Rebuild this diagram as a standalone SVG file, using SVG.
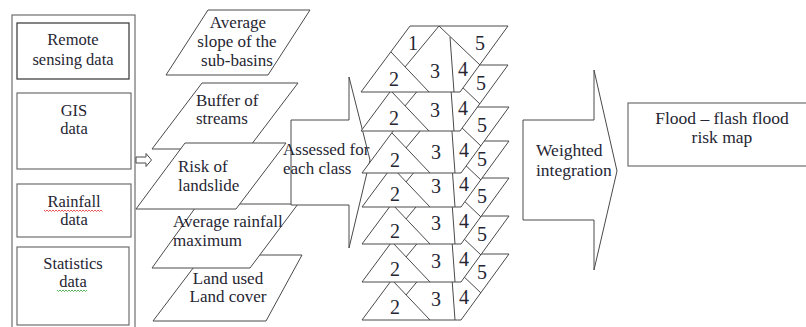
<svg xmlns="http://www.w3.org/2000/svg" xmlns:xlink="http://www.w3.org/1999/xlink" width="806" height="327" viewBox="0 0 806 327" font-family="'Liberation Serif', 'DejaVu Serif', serif">
<style>
  text { font-family: "Liberation Serif", "DejaVu Serif", serif; fill: #262633; }
  .s16 { font-size: 16.5px; }
  .s17 { font-size: 17px; }
  .s18 { font-size: 17.5px; }
  .num { font-size: 20px; text-anchor: middle; }
  .mid { text-anchor: middle; }
  .shape { fill: #ffffff; stroke: #4a4a4a; stroke-width: 1; }
  .ln { fill: none; stroke: #4a4a4a; stroke-width: 1; }
  .box { fill: #ffffff; stroke: #6e6e6e; stroke-width: 1.2; }
</style>
<defs>
  <g id="layerShape">
    <polygon class="shape" points="410,0 508,0 460,66 361,66"/>
    <line class="ln" x1="391" y1="26" x2="429" y2="66"/>
    <line class="ln" x1="439" y1="0" x2="405" y2="41"/>
    <line class="ln" x1="439" y1="0" x2="480" y2="39"/>
    <line class="ln" x1="450" y1="11" x2="454" y2="66"/>
  </g>
</defs>

<!-- Left data column -->
<g id="data-sources">
  <rect class="box" x="12" y="15" width="123" height="330"/>
  <g id="remote">
    <rect x="17" y="23" width="112" height="56" fill="#fff" stroke="#333" stroke-width="1.2"/>
    <text class="s16 mid" x="73" y="45">Remote</text>
    <text class="s16 mid" x="73" y="65">sensing data</text>
  </g>
  <g id="gis">
    <rect class="box" x="17" y="93" width="114" height="76"/>
    <text class="s16 mid" x="74" y="116">GIS</text>
    <text class="s16 mid" x="74" y="134">data</text>
  </g>
  <g id="rainfall">
    <rect class="box" x="17" y="184" width="114" height="53"/>
    <text class="s16 mid" x="74" y="207">Rainfall</text>
    <text class="s16 mid" x="74" y="225">data</text>
    <polyline fill="none" stroke="#e03030" stroke-width="0.8" points="44,210 45.5,211.5 47,210 48.5,211.5 50,210 51.5,211.5 53,210 54.5,211.5 56,210 57.5,211.5 59,210 60.5,211.5 62,210 63.5,211.5 65,210 66.5,211.5 68,210 69.5,211.5 71,210 72.5,211.5 74,210 75.5,211.5 77,210 78.5,211.5 80,210 81.5,211.5 83,210 84.5,211.5 86,210 87.5,211.5 89,210 90.5,211.5 92,210 93.5,211.5 95,210 96.5,211.5 98,210 99.5,211.5 101,210 102.5,211.5"/>
  </g>
  <g id="statistics">
    <rect class="box" x="17" y="247" width="112" height="78"/>
    <text class="s16 mid" x="73" y="269">Statistics</text>
    <text class="s16 mid" x="73" y="287">data</text>
    <polyline fill="none" stroke="#30a030" stroke-width="0.8" points="57,290 58.5,291.5 60,290 61.5,291.5 63,290 64.5,291.5 66,290 67.5,291.5 69,290 70.5,291.5 72,290 73.5,291.5 75,290 76.5,291.5 78,290 79.5,291.5 81,290 82.5,291.5 84,290 85.5,291.5 87,290"/>
  </g>
</g>

<!-- Connectors -->
<g id="connectors">
  <polygon class="shape" points="136,157 146,157 146,153.5 151.5,160 146,166.5 146,163 136,163"/>
</g>

<!-- Thematic layers (parallelograms) -->
<g id="slope">
  <polygon class="shape" points="208,10 310,10 268,75 166,75"/>
  <text class="s17 mid" x="238" y="28">Average</text>
  <text class="s17 mid" x="237" y="47">slope of the</text>
  <text class="s17 mid" x="237" y="66">sub-basins</text>
</g>
<g id="buffer">
  <polygon class="shape" points="202,83 298,83 248,149 152,149"/>
  <text class="s17" x="196" y="106">Buffer of</text>
  <text class="s17" x="196" y="124">streams</text>
</g>
<g id="landuse">
  <polygon class="shape" points="203,255 302,255 266,321 153,321"/>
  <text class="s17 mid" x="228" y="284">Land used</text>
  <text class="s17 mid" x="228" y="302">Land cover</text>
</g>
<g id="rainmax">
  <polygon class="shape" points="198,204 298,204 250,268 152,268"/>
  <text class="s17" x="173" y="227">Average rainfall</text>
  <text class="s17" x="173" y="246">maximum</text>
</g>
<g id="landslide">
  <polygon class="shape" points="185,143 286,143 236,209 136,209"/>
  <text class="s17" x="178" y="172">Risk of</text>
  <text class="s17" x="178" y="191">landslide</text>
</g>

<!-- Assessed arrow -->
<g id="assessed">
  <polygon class="shape" points="291,120 349,120 349,77 370,160 349,248 349,205 291,205"/>
  <text class="s17" x="283" y="155">Assessed for</text>
  <text class="s17" x="283" y="174">each class</text>
</g>

<!-- Stacked classified maps (bottom drawn first) -->
<g id="maps">
  <g id="layer7" transform="translate(1,254)">
    <use href="#layerShape" xlink:href="#layerShape"/>
    <text class="num" x="394" y="60">2</text>
    <text class="num" x="435" y="52">3</text>
    <text class="num" x="463" y="50">4</text>
    <text class="num" x="481" y="25">5</text>
  </g>
  <g id="layer6" transform="translate(1,216)">
    <use href="#layerShape" xlink:href="#layerShape"/>
    <text class="num" x="394" y="60">2</text>
    <text class="num" x="435" y="52">3</text>
    <text class="num" x="463" y="50">4</text>
    <text class="num" x="481" y="25">5</text>
  </g>
  <g id="layer5" transform="translate(1,178)">
    <use href="#layerShape" xlink:href="#layerShape"/>
    <text class="num" x="394" y="60">2</text>
    <text class="num" x="435" y="52">3</text>
    <text class="num" x="463" y="50">4</text>
    <text class="num" x="481" y="25">5</text>
  </g>
  <g id="layer4" transform="translate(1,141)">
    <use href="#layerShape" xlink:href="#layerShape"/>
    <text class="num" x="394" y="60">2</text>
    <text class="num" x="435" y="52">3</text>
    <text class="num" x="463" y="50">4</text>
    <text class="num" x="481" y="25">5</text>
  </g>
  <g id="layer3" transform="translate(1,107)">
    <use href="#layerShape" xlink:href="#layerShape"/>
    <text class="num" x="394" y="60">2</text>
    <text class="num" x="435" y="52">3</text>
    <text class="num" x="463" y="50">4</text>
    <text class="num" x="481" y="25">5</text>
  </g>
  <g id="layer2" transform="translate(0,65)">
    <use href="#layerShape" xlink:href="#layerShape"/>
    <text class="num" x="394" y="60">2</text>
    <text class="num" x="435" y="52">3</text>
    <text class="num" x="463" y="50">4</text>
    <text class="num" x="481" y="25">5</text>
  </g>
  <g id="layer1" transform="translate(0,26)">
    <use href="#layerShape" xlink:href="#layerShape"/>
    <text class="num" x="413" y="24">1</text>
    <text class="num" x="394" y="60">2</text>
    <text class="num" x="435" y="52">3</text>
    <text class="num" x="463" y="50">4</text>
    <text class="num" x="480" y="24">5</text>
  </g>
</g>

<!-- Weighted integration arrow -->
<g id="weighted">
  <polygon class="shape" points="523,120 594,120 594,70 617,171 594,270 594,220 523,220"/>
  <text class="s18" x="536" y="156">Weighted</text>
  <text class="s18" x="536" y="176">integration</text>
</g>

<!-- Result -->
<g id="result">
  <rect class="box" x="628" y="103" width="190" height="63"/>
  <text class="s18 mid" x="722" y="124">Flood – flash flood</text>
  <text class="s18 mid" x="722" y="143">risk map</text>
</g>
</svg>
